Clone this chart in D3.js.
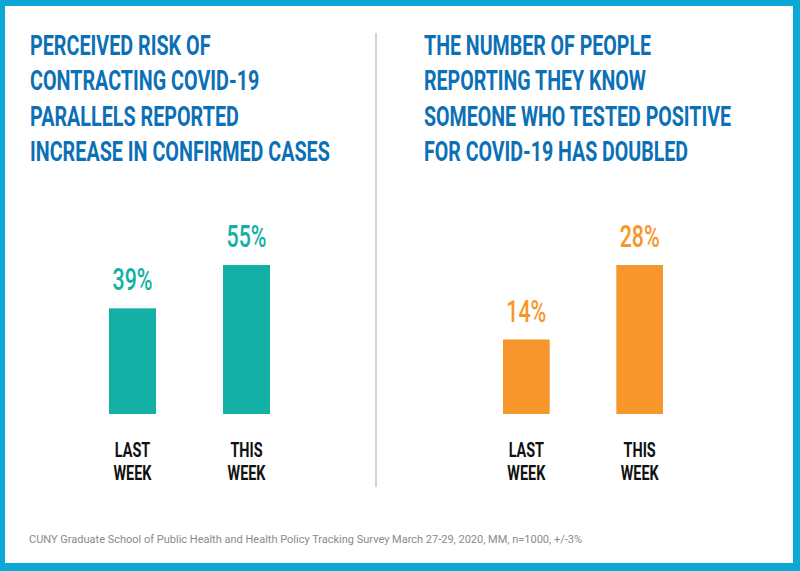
<!DOCTYPE html>
<html>
<head>
<meta charset="utf-8">
<script src="https://cdn.jsdelivr.net/npm/d3@7"></script>
<style>
  body { margin: 0; background: #fff; }
  svg { display: block; }
</style>
</head>
<body>
<svg width="800" height="571"></svg>
<script>
// data
const categories = ["LAST WEEK", "THIS WEEK"]
const riskValues = [39, 55]
const knowValues = [14, 28]
const riskTitle = ["PERCEIVED RISK OF", "CONTRACTING COVID-19", "PARALLELS REPORTED", "INCREASE IN CONFIRMED CASES"]
const knowTitle = ["THE NUMBER OF PEOPLE", "REPORTING THEY KNOW", "SOMEONE WHO TESTED POSITIVE", "FOR COVID-19 HAS DOUBLED"]
const source = "CUNY Graduate School of Public Health and Health Policy Tracking Survey March 27-29, 2020, MM, n=1000, +/-3%"

const svg = d3.select("svg")
const font = "Roboto, 'DejaVu Sans', sans-serif"

// frame
svg.append("rect").attr("width", 800).attr("height", 571).attr("fill", "#0ba8d5")
svg.append("rect").attr("x", 5).attr("y", 6).attr("width", 788).attr("height", 557).attr("fill", "#fff")

svg.append("line")
    .attr("x1", 376).attr("x2", 376)
    .attr("y1", 33).attr("y2", 487)
    .attr("stroke", "#d4d4d4").attr("stroke-width", 2)

// squeeze a text group horizontally so its widest line fits the target width
function squeeze(g, x, y, width) {
    let widest = 0
    g.selectAll("text").each(function () {
        widest = Math.max(widest, this.getComputedTextLength())
    })
    g.attr("transform", `translate(${x},${y}) scale(${width / widest},1)`)
}

function drawTitle(lines, x, width) {
    const g = svg.append("g")
    g.selectAll("text")
        .data(lines)
        .enter()
        .append("text")
        .attr("y", (d, i) => i * 35.4)
        .attr("font-family", font)
        .attr("font-weight", 700)
        .attr("font-size", 28)
        .attr("fill", "#0b70b6")
        .text(d => d)
    squeeze(g, x, 55, width)
}

drawTitle(riskTitle, 30, 300)
drawTitle(knowTitle, 424, 307)

function drawPanel(values, x0, x1, color) {
    const x = d3.scaleBand()
        .domain(categories)
        .range([x0, x1])
        .paddingInner(0.588)
        .paddingOuter(0)

    const y = d3.scaleLinear()
        .domain([0, d3.max(values)])
        .range([414, 265])

    const data = categories.map((c, i) => ({ cat: c, value: values[i] }))

    svg.append("g")
        .selectAll("rect")
        .data(data)
        .enter()
        .append("rect")
        .attr("x", d => x(d.cat))
        .attr("y", d => y(d.value))
        .attr("width", x.bandwidth())
        .attr("height", d => y(0) - y(d.value))
        .attr("fill", color)

    data.forEach(d => {
        const cx = x(d.cat) + x.bandwidth() / 2

        const lab = svg.append("g")
        lab.append("text")
            .attr("text-anchor", "middle")
            .attr("font-family", font)
            .attr("font-weight", 500)
            .attr("font-size", 31)
            .attr("fill", color)
            .text(d.value + "%")
        squeeze(lab, cx, y(d.value) - 18, 40)

        const cat = svg.append("g")
        cat.selectAll("text")
            .data(d.cat.split(" "))
            .enter()
            .append("text")
            .attr("text-anchor", "middle")
            .attr("y", (w, i) => i * 23)
            .attr("font-family", font)
            .attr("font-weight", 700)
            .attr("font-size", 21)
            .attr("fill", "#111")
            .text(w => w)
        squeeze(cat, cx, 457, 38)
    })
}

drawPanel(riskValues, 109, 270, "#13b0a5")
drawPanel(knowValues, 503, 663, "#f7962b")

const foot = svg.append("g")
foot.append("text")
    .attr("font-family", font)
    .attr("font-size", 11.5)
    .attr("fill", "#8a8a8a")
    .text(source)
squeeze(foot, 29, 543, 553)
</script>
</body>
</html>
